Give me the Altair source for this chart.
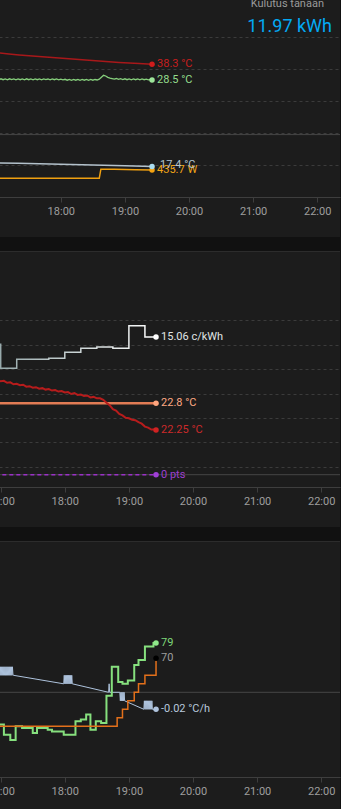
import altair as alt
import pandas as pd

BASE = pd.Timestamp("2024-01-15 17:00:00")


def stamps(mins):
    return [BASE + pd.Timedelta(seconds=round(m * 60)) for m in mins]


def dt(h, m=0, s=0):
    return alt.DateTime(year=2024, month=1, date=15, hours=h, minutes=m, seconds=s)


HOURS = [17, 18, 19, 20, 21, 22]

# ---------------- header ----------------
HEAD_TITLE = "Kulutus tänään"
HEAD_VALUE = "11.97 kWh"

# ---------------- panel 1 (minutes after 17:00 / values) ----------------
p1_red_t = [-5, 2.2, 11.5, 20.9, 39.6, 58.3, 77.0, 95.8, 114.5, 133.2, 145.4]
p1_red_v = [39.05, 39.0, 38.94, 38.88, 38.78, 38.69, 38.59, 38.5, 38.41, 38.34, 38.3]

p1_green_t = list(range(-4, 145, 2)) + [145.4]
p1_green_v = [28.60, 28.53, 28.61, 28.52, 28.62, 28.53, 28.60, 28.51, 28.62, 28.54,
              28.61, 28.52, 28.60, 28.53, 28.61, 28.52, 28.62, 28.53, 28.60, 28.52,
              28.61, 28.53, 28.60, 28.52, 28.61, 28.54, 28.60, 28.52, 28.61, 28.53,
              28.60, 28.52, 28.59, 28.51, 28.57, 28.48, 28.56, 28.47, 28.55, 28.48,
              28.56, 28.47, 28.55, 28.48, 28.56, 28.47, 28.55, 28.48, 28.55, 28.50,
              28.58, 28.78, 28.97, 28.90, 28.76, 28.68, 28.64, 28.59, 28.65, 28.56,
              28.63, 28.55, 28.62, 28.53, 28.61, 28.52, 28.60, 28.53, 28.61, 28.52,
              28.60, 28.53, 28.59, 28.51, 28.55, 28.50]

p1_blue_t = [-5, 20, 40, 60, 80, 100, 120, 145.4]
p1_blue_v = [17.76, 17.72, 17.68, 17.63, 17.58, 17.52, 17.47, 17.4]

p1_power_t = [-5, 30, 60, 90, 96.0, 97.5, 110, 130, 145.4]
p1_power_v = [10, 12, 9, 11, 10, 480, 470, 450, 435.7]

# ---------------- panel 2 ----------------
p2_price_t = [-15, 0, 15, 45, 60, 75, 90, 105, 120, 135, 145.4]
p2_price_v = [14.31, 11.84, 12.77, 12.87, 13.49, 13.90, 14.03, 13.90, 16.22, 15.06, 15.06]

p2_set_t = [-5, 145.4]
p2_set_v = [22.8, 22.8]

p2_room_t = list(range(-3, 145, 3)) + [145.4]
p2_room_v = [23.28, 23.25, 23.26, 23.22, 23.23, 23.19, 23.20, 23.17, 23.18, 23.14,
             23.15, 23.12, 23.13, 23.10, 23.11, 23.08, 23.09, 23.06, 23.07, 23.04,
             23.05, 23.02, 23.03, 22.99, 23.01, 22.97, 22.98, 22.95, 22.96, 22.92,
             22.93, 22.90, 22.90, 22.87, 22.81, 22.76, 22.68, 22.65, 22.58, 22.55,
             22.50, 22.49, 22.46, 22.45, 22.41, 22.38, 22.32, 22.30, 22.26, 22.26,
             22.25]

p2_pts_t = [-5, 145.4]
p2_pts_v = [0, 0]

# ---------------- panel 3 ----------------
p3_green_t = [-5, 3, 9, 14, 20, 30, 34, 44, 48, 59, 70, 75, 80, 84, 89, 94, 99, 104,
              110, 114, 119, 125, 129, 135, 143, 145.4]
p3_green_v = [31, 25, 22, 30, 29, 26, 29, 28, 27, 25, 33, 34, 37, 28, 33, 32, 48, 65,
              56, 55, 57, 66, 69, 77, 79, 79]

p3_orange_t = [-5, 109, 114, 119, 125, 129, 135, 145.4]
p3_orange_v = [30, 35, 40, 45, 50, 55, 60, 70]

p3_rate_t = [-3, -2.5, -2, -1.5, -1, -0.5, 0, 0.5, 1, 1.5, 2, 2.5, 3, 3.5, 4, 4.5,
             5, 5.5, 6, 6.5, 7, 7.5, 8, 8.5, 9, 9.5, 10, 10.5, 11, 11.5, 12,
             59, 59.5, 60, 60.5, 61, 61.5, 62, 62.5, 63, 63.5, 64, 64.5, 65, 65.5, 66, 66.5, 67,
             101, 101.5, 102, 111.5,
             112, 112.5, 113, 113.5, 114, 114.5, 115, 115.5, 116,
             134, 134.5, 135, 135.5, 136, 136.5, 137, 137.5, 138, 138.5, 139, 139.5,
             140, 140.5, 141, 141.5, 142,
             145.4]
p3_rate_v = [0.03, 0.02, 0.03, 0.02, 0.03, 0.02, 0.03, 0.02, 0.03, 0.02, 0.03, 0.02, 0.03, 0.02, 0.03, 0.02,
             0.03, 0.02, 0.03, 0.02, 0.03, 0.02, 0.03, 0.02, 0.03, 0.02, 0.03, 0.02, 0.03, 0.02, 0.02,
             0.01, 0.02, 0.01, 0.02, 0.01, 0.02, 0.01, 0.02, 0.01, 0.02, 0.01, 0.02, 0.01, 0.02, 0.01, 0.02, 0.01,
             0.0, 0.01, 0.0, 0.0,
             -0.01, 0.0, -0.01, 0.0, -0.01, 0.0, -0.01, 0.0, -0.01,
             -0.02, -0.01, -0.02, -0.01, -0.02, -0.01, -0.02, -0.01, -0.02, -0.01, -0.02, -0.01,
             -0.02, -0.01, -0.02, -0.01, -0.02,
             -0.02]

# ---------------- styling ----------------
W = 341
H1, H2, H3 = 237, 276, 268
AXC = "#3e3e3e"
LAB = "#9e9e9e"
GRID = "#3b3b3b"
ZERO = "#464646"
BORDER = "#2c2c2c"
FONT = "Roboto"


def yscale(ref_v, ref_y, ppu, H):
    return alt.Scale(domain=[ref_v - (H - ref_y) / ppu, ref_v + ref_y / ppu], nice=False, zero=False)


def xscale(a, b):
    return alt.Scale(domain=[a, b], nice=False)


def x_axis(offset):
    return alt.Axis(values=[dt(h) for h in HOURS], format="%H:%M", offset=offset, grid=False,
                    domainColor=AXC, tickColor=AXC, tickSize=5, labelPadding=3, labelColor=LAB,
                    labelFontSize=11, labelFont=FONT, labelFlush=False, labelOverlap=False, title=None)


def grid_axis(values):
    return alt.Axis(values=values, grid=True, gridDash=[3, 3], gridColor=GRID, gridWidth=1,
                    labels=False, ticks=False, domain=False, title=None)


def series(mins, vals, xs, xa, ys, color, width=1.5, interp="linear", dash=None, yaxis=None):
    df = pd.DataFrame({"t": stamps(mins), "v": vals})
    kw = dict(color=color, strokeWidth=width, interpolate=interp, clip=True)
    if dash:
        kw["strokeDash"] = dash
    return alt.Chart(df).mark_line(**kw).encode(
        x=alt.X("t:T", scale=xs, axis=xa, title=None),
        y=alt.Y("v:Q", scale=ys, axis=yaxis, title=None))


def endpoint(mins, vals, unit, xs, xa, ys, dot, txt, dx=5, dy=0):
    v = vals[-1]
    lbl = f"{v:g}" + (f" {unit}" if unit else "")
    df = pd.DataFrame({"t": stamps([mins[-1]]), "v": [v], "lbl": [lbl]})
    base = alt.Chart(df).encode(x=alt.X("t:T", scale=xs, axis=xa, title=None),
                                y=alt.Y("v:Q", scale=ys, axis=None))
    return [base.mark_circle(size=30, color=dot, opacity=1),
            base.mark_text(align="left", baseline="middle", dx=dx, dy=dy, color=txt,
                           fontSize=11, font=FONT).encode(text="lbl:N")]


def hline(value, ys, color):
    df = pd.DataFrame({"v": [value]})
    return alt.Chart(df).mark_rule(color=color, strokeWidth=1).encode(
        y=alt.Y("v:Q", scale=ys, axis=None))


def top_border():
    return alt.Chart(pd.DataFrame({"a": [0]})).mark_rule(color=BORDER, strokeWidth=1).encode(
        y=alt.value(0.5))


# ================= panel 1 =================
xs1 = xscale(dt(17, 2, 9), dt(22, 21, 20))
xa1 = x_axis(-40)
ys1_red = yscale(38, 69, 16, H1)
ys1_green = yscale(28.5, 80, 10, H1)
ys1_blue = yscale(17.4, 166.5, 10, H1)
ys1_pow = yscale(435.7, 170, 0.0195, H1)

hdr = pd.DataFrame({"a": [0]})
p1_layers = [
    series(p1_red_t, p1_red_v, xs1, xa1, ys1_red, "#a8181a", 1.5,
           yaxis=grid_axis([32, 34, 36, 38, 40])),
    hline(33.9, ys1_red, ZERO),
    series(p1_green_t, p1_green_v, xs1, xa1, ys1_green, "#86cf7c", 1.3),
    series(p1_power_t, p1_power_v, xs1, xa1, ys1_pow, "#f0a010", 1.5),
    series(p1_blue_t, p1_blue_v, xs1, xa1, ys1_blue, "#b4c2cc", 1.5),
    *endpoint(p1_red_t, p1_red_v, "°C", xs1, xa1, ys1_red, "#d01c1c", "#c81e1e"),
    *endpoint(p1_green_t, p1_green_v, "°C", xs1, xa1, ys1_green, "#9de59a", "#94dc8c"),
    *endpoint(p1_power_t, p1_power_v, "W", xs1, xa1, ys1_pow, "#f5a312", "#f2a516"),
    *endpoint(p1_blue_t, p1_blue_v, "°C", xs1, xa1, ys1_blue, "#a9dcf0", "#b6c5cf", dx=8, dy=-2),
    alt.Chart(hdr).mark_text(text=HEAD_TITLE, align="right", baseline="alphabetic", fontSize=11,
                             font=FONT, color="#9a9a9a", clip=True).encode(x=alt.value(325), y=alt.value(6.8)),
    alt.Chart(hdr).mark_text(text=HEAD_VALUE, align="right", baseline="middle", fontSize=18,
                             font=FONT, color="#03a9f4", clip=True).encode(x=alt.value(333), y=alt.value(27)),
]
panel1 = alt.layer(*p1_layers).resolve_scale(y="independent").properties(width=W, height=H1)

# ================= panel 2 =================
xs2 = xscale(dt(16, 58, 25), dt(22, 17, 36))
xa2 = x_axis(-40)
ys2_temp = yscale(23.0, 142.5, 48.67, H2)
ys2_price = yscale(15.06, 86, 9.73, H2)
ys2_pts = yscale(0, 223.7, 10, H2)

price_grad = alt.Gradient(gradient="linear",
                          stops=[alt.GradientStop(color="#8da1a3", offset=0),
                                 alt.GradientStop(color="#ffffff", offset=1)],
                          x1=0, x2=1, y1=0, y2=0)

p2_layers = [
    top_border(),
    series(p2_set_t, p2_set_v, xs2, xa2, ys2_temp, "#e27c55", 2.5,
           yaxis=grid_axis([21.5, 22, 22.5, 23, 23.5, 24, 24.5])),
    hline(0, ys2_pts, ZERO),
    series(p2_pts_t, p2_pts_v, xs2, xa2, ys2_pts, "#9b30c8", 1.5, dash=[4, 3]),
    series(p2_room_t, p2_room_v, xs2, xa2, ys2_temp, "#b71c1c", 2),
    alt.Chart(pd.DataFrame({"t": stamps(p2_price_t), "v": p2_price_v})).mark_line(
        color=price_grad, strokeWidth=1.5, interpolate="step-after", clip=True).encode(
        x=alt.X("t:T", scale=xs2, axis=xa2, title=None),
        y=alt.Y("v:Q", scale=ys2_price, axis=None)),
    *endpoint(p2_price_t, p2_price_v, "c/kWh", xs2, xa2, ys2_price, "#ffffff", "#e0e6e6"),
    *endpoint(p2_set_t, p2_set_v, "°C", xs2, xa2, ys2_temp, "#ffa57e", "#ffa883"),
    *endpoint(p2_room_t, p2_room_v, "°C", xs2, xa2, ys2_temp, "#d02222", "#cc2a2a"),
    *endpoint(p2_pts_t, p2_pts_v, "pts", xs2, xa2, ys2_pts, "#a040d8", "#9c3fd0"),
]
panel2 = alt.layer(*p2_layers).resolve_scale(y="independent").properties(width=W, height=H2)

# ================= panel 3 =================
xs3 = xscale(dt(16, 58, 25), dt(22, 17, 36))
xa3 = x_axis(-32)
ys3_main = yscale(0, 236.3, 1.7, H3)
ys3_rate = yscale(0, 151.3, 850, H3)

p3_layers = [
    top_border(),
    hline(0, ys3_rate, ZERO),
    series(p3_rate_t, p3_rate_v, xs3, xa3, ys3_rate, "#aec3dd", 1,
           yaxis=grid_axis([20, 40, 60, 80])),
    series(p3_green_t, p3_green_v, xs3, xa3, ys3_main, "#86e07e", 2, interp="step-after"),
    series(p3_orange_t, p3_orange_v, xs3, xa3, ys3_main, "#e3701b", 1.5, interp="step-after"),
    *endpoint(p3_green_t, p3_green_v, "", xs3, xa3, ys3_main, "#8fe88a", "#7fd87a"),
    *endpoint(p3_orange_t, p3_orange_v, "", xs3, xa3, ys3_main, "#000000", "#9e9e9e"),
    *endpoint(p3_rate_t, p3_rate_v, "°C/h", xs3, xa3, ys3_rate, "#b0c4de", "#b8c8dc"),
]
panel3 = alt.layer(*p3_layers).resolve_scale(y="independent").properties(width=W, height=H3)

chart = (
    alt.vconcat(panel1, panel2, panel3, spacing=14)
    .resolve_scale(x="independent", y="independent")
    .properties(background="#111111", padding={"left": -14, "top": 0, "right": 0, "bottom": 0})
    .configure_view(fill="#1c1c1c", strokeWidth=0)
)

chart.save("out.html", embed_options={"renderer": "svg", "actions": False})
